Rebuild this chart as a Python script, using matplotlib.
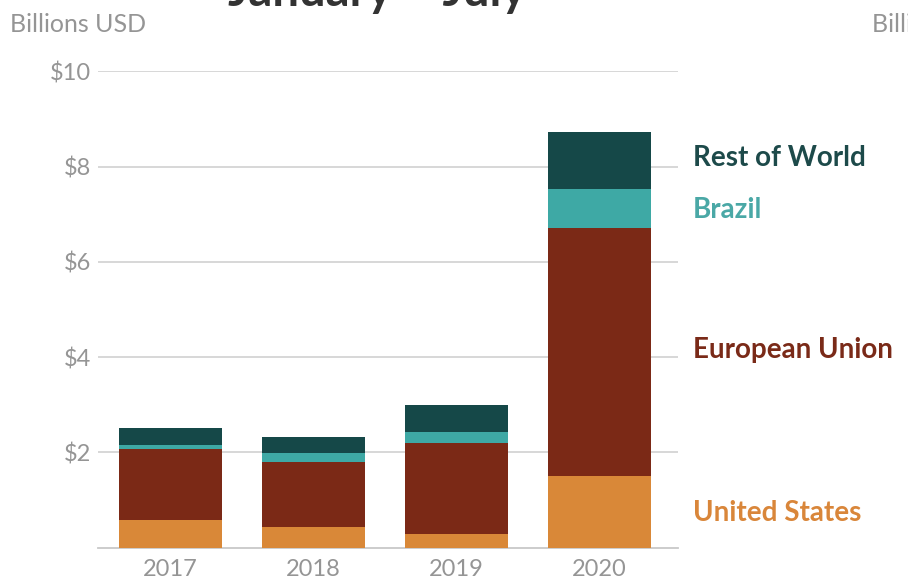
import numpy as np
import matplotlib.pyplot as plt
from matplotlib.transforms import blended_transform_factory

plt.rcParams['font.family'] = ['Lato', 'DejaVu Sans']

years = ['2017', '2018', '2019', '2020']
series = ['United States', 'European Union', 'Brazil', 'Rest of World']
us = [0.58, 0.43, 0.28, 1.50]
eu = [1.49, 1.37, 1.92, 5.22]
brazil = [0.08, 0.18, 0.23, 0.81]
rest = [0.37, 0.35, 0.56, 1.19]
yticks = [2, 4, 6, 8, 10]
ytick_labels = ['$2', '$4', '$6', '$8', '$10']

bar_colors = ['#d98838', '#7b2916', '#3ea9a5', '#154848']
text_colors = ['#d9863a', '#7a2a18', '#4aa8a6', '#1d4a4a']

fig = plt.figure(figsize=(9.08, 5.78), dpi=100)
ax = fig.add_axes([98/908, 0.0524, 580/908, 0.8242])

x = np.arange(len(years))
bottom = np.zeros(len(years))
for vals, col in zip([us, eu, brazil, rest], bar_colors):
    ax.bar(x, vals, bottom=bottom, width=0.72, color=col, zorder=3)
    bottom += np.array(vals)

ax.set_xlim(-0.507, 3.55)
ax.set_ylim(0, 10)
ax.set_yticks(yticks)
ax.set_yticklabels(ytick_labels)
ax.set_xticks(x)
ax.set_xticklabels(years)
ax.grid(axis='y', color='#d4d4d4', linewidth=1.3, zorder=0)
for s in ['top', 'right', 'left']:
    ax.spines[s].set_visible(False)
ax.spines['bottom'].set_color('#c8c8c8')
ax.spines['bottom'].set_linewidth(1.3)
ax.tick_params(axis='both', length=0, labelsize=17, labelcolor='#959595')
ax.tick_params(axis='y', pad=5)
ax.tick_params(axis='x', pad=8)

# labels beside the 2020 bar
trans = blended_transform_factory(ax.transAxes, ax.transData)
last = [s[-1] for s in [us, eu, brazil, rest]]
cum = np.cumsum([0] + last)
offsets = [-0.02, 0.05, -0.03, 0.05]
for i, (name, col) in enumerate(zip(series, text_colors)):
    mid = (cum[i] + cum[i + 1]) / 2
    ax.text(1.026, mid + offsets[i], name, transform=trans, ha='left',
            va='center', fontsize=20, fontweight='bold', color=col)

fig.text(10/908, 1 - 25/578, 'Billions USD', fontsize=18, color='#959595',
         ha='left', va='center')
fig.text(872/908, 1 - 25/578, 'Billions USD', fontsize=18, color='#959595',
         ha='left', va='center')
fig.text(377/908, 1 - 6/578, 'January \u2013 July', fontsize=34,
         fontweight='bold', color='#333333', ha='center', va='baseline')

fig.savefig('out.png', dpi=100)
